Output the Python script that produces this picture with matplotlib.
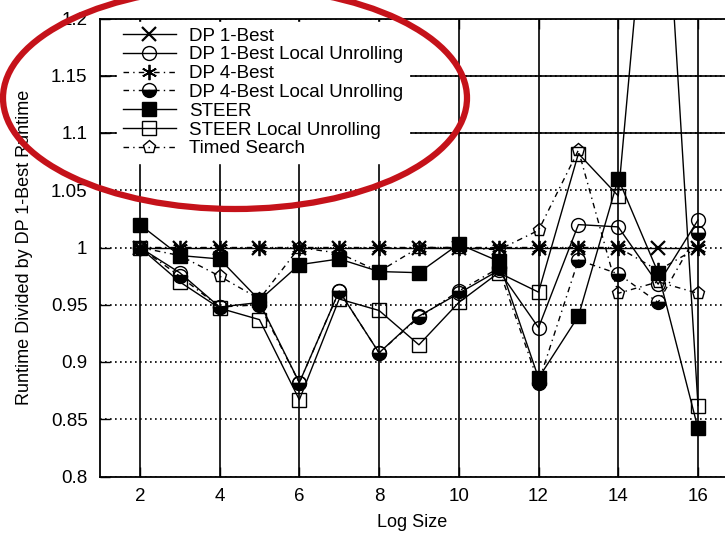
import matplotlib
matplotlib.use("Agg")
from matplotlib import pyplot as plt
from matplotlib.patches import Ellipse

plt.rcParams['font.family'] = ['Liberation Sans', 'DejaVu Sans']

# Log size (x axis)
log_size = [2, 3, 4, 5, 6, 7, 8, 9, 10, 11, 12, 13, 14, 15, 16]

# Runtime divided by DP 1-Best runtime
dp1_best = [1.0, 1.0, 1.0, 1.0, 1.0, 1.0, 1.0, 1.0, 1.0, 1.0, 1.0, 1.0, 1.0, 1.0, 1.0]
dp1_best_lu = [1.0, 0.978, 0.948, 0.952, 0.882, 0.962, 0.908, 0.940, 0.960, 0.980,
               0.930, 1.020, 1.018, 0.968, 1.024]
dp4_best = [1.0, 1.0, 1.0, 1.0, 1.0, 1.0, 1.0, 1.0, 1.0, 1.0, 1.0, 1.0, 1.0, 0.980, 1.0]
dp4_best_lu = [1.0, 0.975, 0.948, 0.950, 0.882, 0.962, 0.908, 0.939, 0.962, 0.982,
               0.882, 0.989, 0.977, 0.952, 1.013]
steer = [1.020, 0.993, 0.990, 0.954, 0.985, 0.990, 0.979, 0.978, 1.003, 0.988,
         0.886, 0.940, 1.060, 0.978, 0.842]
steer_lu = [1.0, 0.970, 0.947, 0.937, 0.867, 0.955, 0.945, 0.915, 0.952, 0.978,
            0.961, 1.082, 1.045, 1.430, 0.862]
timed_search = [1.0, 0.993, 0.975, 0.955, 1.0, 0.995, 0.979, 1.0, 1.0, 0.998,
                1.015, 1.085, 0.960, 0.970, 0.960]

y_ticks = [0.8, 0.85, 0.9, 0.95, 1.0, 1.05, 1.1, 1.15, 1.2]
y_tick_labels = ['0.8', '0.85', '0.9', '0.95', '1', '1.05', '1.1', '1.15', '1.2']
x_ticks = [2, 4, 6, 8, 10, 12, 14, 16]

W, H = 725, 534
fs = 13.5
fig = plt.figure(figsize=(W / 100, H / 100), dpi=100)
ax = fig.add_axes([100 / W, (H - 476.5) / H, 625 / W, 458 / H])

dashdot = (0, (4, 3, 1, 3))
lw = 1.0
ax.plot(log_size, dp1_best, color='black', lw=lw, marker='x', ms=10, mew=1.6,
        label='DP 1-Best')
ax.plot(log_size, dp1_best_lu, color='black', lw=lw, marker='o', ms=10, mew=1.0,
        mfc='none', label='DP 1-Best Local Unrolling')
ax.plot(log_size, dp4_best, color='black', lw=lw, ls=dashdot, marker=(6, 2, 0), ms=11,
        mew=1.3, label='DP 4-Best')
ax.plot(log_size, dp4_best_lu, color='black', lw=lw, ls=dashdot, marker='o', ms=10,
        mew=1.0, fillstyle='bottom', mfc='black', markerfacecoloralt='none',
        label='DP 4-Best Local Unrolling')
ax.plot(log_size, steer, color='black', lw=lw, marker='s', ms=10.5, mew=1.0,
        mfc='black', label='STEER')
ax.plot(log_size, steer_lu, color='black', lw=lw, marker='s', ms=10.5, mew=1.0,
        mfc='none', label='STEER Local Unrolling')
ax.plot(log_size, timed_search, color='black', lw=lw, ls=dashdot, marker='p', ms=9.5,
        mew=1.0, mfc='none', label='Timed Search')

ax.set_xlim(1, 1 + 626 / 39.93)
ax.set_ylim(0.8, 1.2)
ax.set_xticks(x_ticks)
ax.set_yticks(y_ticks)
ax.set_yticklabels(y_tick_labels)
ax.tick_params(direction='in', length=7, width=1, top=True, right=False,
               labelsize=fs, colors='black')
ax.tick_params(axis='y', pad=9)
ax.tick_params(axis='x', pad=8)
ax.spines['right'].set_visible(False)
for s in ['left', 'top', 'bottom']:
    ax.spines[s].set_linewidth(1.3)

# grid: solid verticals, dotted horizontals (1.1 and 1.15 look solid)
ax.grid(axis='x', color='black', lw=1.2, ls='-', zorder=0)
ax.grid(axis='y', color='black', lw=1.2, ls=(0, (1, 2)), zorder=0)
for yv in [1.1, 1.15]:
    ax.axhline(yv, color='black', lw=1.2, zorder=0)
ax.set_axisbelow(True)

ax.set_xlabel('Log Size', fontsize=13, labelpad=7)
ax.set_ylabel('Runtime Divided by DP 1-Best Runtime', fontsize=13, labelpad=13)

leg = ax.legend(loc='upper left', bbox_to_anchor=(0.018, 1.005), fontsize=fs,
                frameon=True, fancybox=False, framealpha=1, facecolor='white',
                edgecolor='white', handlelength=2.85, handletextpad=0.7,
                labelspacing=0.09, borderpad=0.3, borderaxespad=0.3)

# red highlight ellipse drawn over the legend
ell = Ellipse((235 / W, 1 - 98 / H), 464 / W, 222 / H, transform=fig.transFigure,
              fill=False, edgecolor='#c5121a', lw=4.5, zorder=10)
fig.add_artist(ell)

fig.savefig('out.png', dpi=100)
